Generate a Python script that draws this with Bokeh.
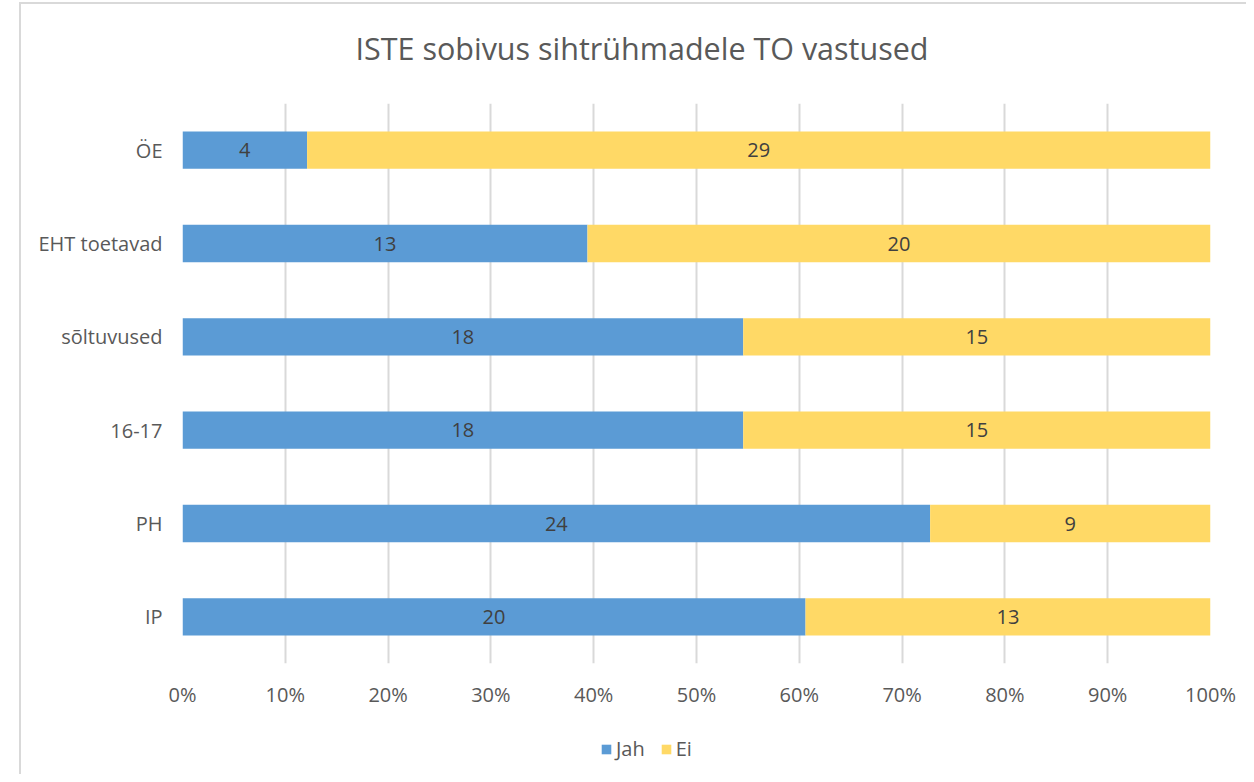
from bokeh.plotting import figure
from bokeh.layouts import column
from bokeh.models import (ColumnDataSource, FactorRange, Range1d, FixedTicker, NumeralTickFormatter,
                          Legend, LegendItem, Div)
from bokeh.core.properties import value
from bokeh.embed import file_html
from bokeh.resources import INLINE

title_text = "ISTE sobivus sihtrühmadele TO vastused"
categories = ["IP", "PH", "16-17", "sõltuvused", "EHT toetavad", "ÖE"]
series = ["Jah", "Ei"]
jah = [20, 24, 18, 18, 13, 4]
ei = [13, 9, 15, 15, 20, 29]
tick_values = [0.0, 0.1, 0.2, 0.3, 0.4, 0.5, 0.6, 0.7, 0.8, 0.9, 1.0]

FONT = "Open Sans"
BLUE = "#5B9BD5"
YELLOW = "#FFD966"

tot = [a + b for a, b in zip(jah, ei)]
jah_p = [a / t for a, t in zip(jah, tot)]
ei_p = [b / t for b, t in zip(ei, tot)]
src = ColumnDataSource(dict(
    cat=categories, jah=jah, ei=ei, jah_p=jah_p, ei_p=ei_p,
    jah_mid=[p / 2 for p in jah_p],
    ei_mid=[a + b / 2 for a, b in zip(jah_p, ei_p)],
    jah_txt=[str(v) for v in jah], ei_txt=[str(v) for v in ei],
))

W = 1225

title = Div(text=('<div style="width:%dpx; box-sizing:border-box; font-family:\'Open Sans\'; '
                  'font-size:30.5px; color:#595959; text-align:center; line-height:40px; '
                  'padding-top:24px; padding-left:17px; white-space:nowrap;">%s</div>') % (W, title_text),
            width=W, height=99, margin=0)

p = figure(width=W, height=623, y_range=FactorRange(*categories, range_padding=0),
           x_range=Range1d(0, 1), output_backend="svg", toolbar_location=None,
           min_border_left=161, min_border_right=36, min_border_top=0, min_border_bottom=63)
p.outline_line_color = None

r = p.hbar_stack(["jah_p", "ei_p"], y="cat", height=0.4, color=[BLUE, YELLOW], line_color=None, source=src)

p.text(x="jah_mid", y="cat", text="jah_txt", source=src, text_align="center", text_baseline="middle",
       text_font=value(FONT), text_font_size="20px", text_color="#404040")
p.text(x="ei_mid", y="cat", text="ei_txt", source=src, text_align="center", text_baseline="middle",
       text_font=value(FONT), text_font_size="20px", text_color="#404040")

p.xaxis.ticker = FixedTicker(ticks=tick_values)
p.xaxis.formatter = NumeralTickFormatter(format="0%")
p.xaxis.axis_line_color = None
p.xaxis.major_tick_line_color = None
p.xaxis.minor_tick_line_color = None
p.xaxis.major_label_text_font = FONT
p.xaxis.major_label_text_font_size = "20px"
p.xaxis.major_label_text_color = "#595959"
p.xaxis.major_label_standoff = 11

p.yaxis.axis_line_color = None
p.yaxis.major_tick_line_color = None
p.yaxis.major_label_text_font = FONT
p.yaxis.major_label_text_font_size = "20px"
p.yaxis.major_label_text_color = "#595959"
p.yaxis.major_label_standoff = 14

p.ygrid.grid_line_color = None
p.xgrid.ticker = FixedTicker(ticks=tick_values)
p.xgrid.grid_line_color = "#d9d9d9"
p.xgrid.grid_line_width = 2

# legend strip: zero-height bars outside the visible range, only the legend swatches show
lg = figure(width=W, height=48, y_range=FactorRange(*categories), x_range=Range1d(5, 6),
            output_backend="svg", toolbar_location=None, x_axis_location=None, y_axis_location=None,
            min_border_left=161, min_border_right=36, min_border_top=0, min_border_bottom=0)
lg.outline_line_color = None
lg.grid.visible = False
lr = lg.hbar_stack(["jah_p", "ei_p"], y="cat", height=0.0, color=[BLUE, YELLOW], line_color=None, source=src)

legend = Legend(items=[LegendItem(label=series[0], renderers=[lr[0]]),
                       LegendItem(label=series[1], renderers=[lr[1]])],
                orientation="horizontal", location=(418, 12), border_line_color=None,
                background_fill_alpha=0,
                label_text_font=FONT, label_text_font_size="20px", label_text_color="#595959",
                glyph_width=12, glyph_height=12, label_height=26, spacing=15, label_standoff=4,
                margin=0, padding=0)
lg.add_layout(legend, "center")

layout = column(title, p, lg, spacing=0,
                styles={"margin-left": "19px", "margin-top": "2px",
                        "border-left": "2px solid #d9d9d9", "border-top": "2px solid #d9d9d9"})

open("out.html", "w").write(file_html(layout, INLINE))
